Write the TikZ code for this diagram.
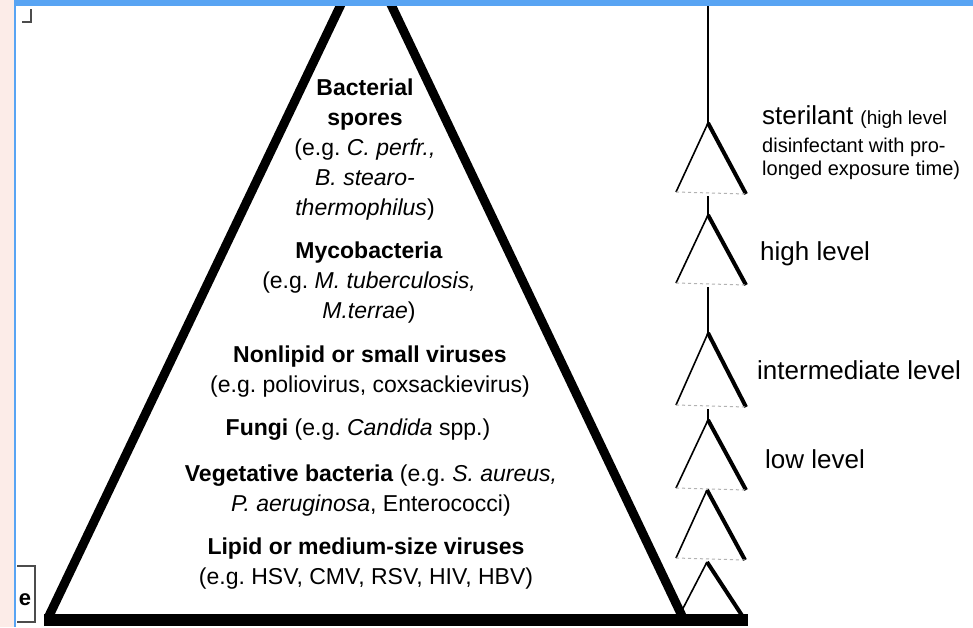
\documentclass[tikz,border=0pt]{standalone}
\usepackage{fontspec}
\setmainfont{Liberation Sans}
\usetikzlibrary{positioning}
\definecolor{bandpink}{RGB}{252,236,232}
\definecolor{bandblue}{RGB}{88,164,243}

\begin{document}
\begin{tikzpicture}[x=1pt, y=-1pt,
    level/.style={inner sep=0pt, align=center, font=\fontsize{23}{30}\selectfont},
    tag/.style={inner sep=0pt, anchor=west, align=left, font=\fontsize{26}{28}\selectfont},
    note/.style={inner sep=0pt, anchor=west, align=left, font=\fontsize{20}{23}\selectfont},
    wall/.style={line width=9pt},
    stem/.style={line width=1.2pt},
    leftleg/.style={line width=1.6pt},
    rightleg/.style={line width=4pt},
    footing/.style={gray!60, dashed, line width=1pt},
]
\useasboundingbox (0,0) rectangle (973,627);
\clip (0,0) rectangle (973,627);
\fill[white] (0,0) rectangle (973,627);

% big pyramid
\coordinate (top) at (366,-48);
\coordinate (baseL) at (48,618);
\coordinate (baseR) at (683,618);
\draw[wall] (top) -- (baseL);
\draw[wall] (top) -- (baseR);
\draw[line width=12pt] (44,620) -- (748,620);

% levels of resistance
\node[level] (spores) at (365,150) {\textbf{Bacterial}\\\textbf{spores}\\(e.g.\ \textit{C. perfr.,}\\\textit{B. stearo-}\\\textit{thermophilus})};
\node[level] (myco) at (369,283) {\textbf{Mycobacteria}\\(e.g.\ \textit{M. tuberculosis,}\\\textit{M.terrae})};
\node[level] (nonlipid) at (370,372) {\textbf{Nonlipid or small viruses}\\(e.g.\ poliovirus, coxsackievirus)};
\node[level] (fungi) at (358,430) {\textbf{Fungi} (e.g.\ \textit{Candida} spp.)};
\node[level] (vegetative) at (371,491) {\textbf{Vegetative bacteria} (e.g.\ \textit{S. aureus,}\\\textit{P. aeruginosa}, Enterococci)};
\node[level] (lipid) at (366,564) {\textbf{Lipid or medium-size viruses}\\(e.g.\ HSV, CMV, RSV, HIV, HBV)};

% stacked triangles
\coordinate (root) at (708,6);
\coordinate (cap1) at (708,123); \coordinate (bl1) at (676,192); \coordinate (br1) at (746,194); \coordinate (foot1) at (708,196);
\coordinate (cap2) at (708,215); \coordinate (bl2) at (676,283); \coordinate (br2) at (746,285); \coordinate (foot2) at (708,287);
\coordinate (cap3) at (708,333); \coordinate (bl3) at (676,405); \coordinate (br3) at (746,407); \coordinate (foot3) at (708,409);
\coordinate (cap4) at (708,420); \coordinate (bl4) at (676,488); \coordinate (br4) at (746,490);
\coordinate (cap5) at (707,490); \coordinate (bl5) at (676,558); \coordinate (br5) at (745,560);
\coordinate (cap6) at (707,562); \coordinate (bl6) at (678,618); \coordinate (br6) at (745,620);

\draw[stem] (root) -- (cap1);
\draw[stem] (foot1) -- (cap2);
\draw[stem] (foot2) -- (cap3);
\draw[stem] (foot3) -- (cap4);

\draw[leftleg] (cap1) -- (bl1); \draw[rightleg] (cap1) -- (br1); \draw[footing] (bl1) -- (br1);
\draw[leftleg] (cap2) -- (bl2); \draw[rightleg] (cap2) -- (br2); \draw[footing] (bl2) -- (br2);
\draw[leftleg] (cap3) -- (bl3); \draw[rightleg] (cap3) -- (br3); \draw[footing] (bl3) -- (br3);
\draw[leftleg] (cap4) -- (bl4); \draw[rightleg] (cap4) -- (br4); \draw[footing] (bl4) -- (br4);
\draw[leftleg] (cap5) -- (bl5); \draw[rightleg] (cap5) -- (br5); \draw[footing] (bl5) -- (br5);
\draw[leftleg] (cap6) -- (bl6); \draw[rightleg] (cap6) -- (br6);

% disinfection levels
\node[tag] (sterilant) at (762,117) {sterilant {\fontsize{19}{23}\selectfont (high level}};
\node[note] (prolonged) at (762,159) {disinfectant with pro-\\longed exposure time)};
\node[tag] (high) at (760,254) {high level};
\node[tag] (intermediate) at (757,370) {intermediate level};
\node[tag] (low) at (765,459) {low level};

% window frame
\fill[bandpink] (0,0) rectangle (14,627);
\draw[bandblue, line width=2pt] (15,0) -- (15,627);
\fill[bandblue] (14,0) rectangle (973,6);
\draw[line width=1.2pt, black!70] (22,22) -- (31,22) -- (31,9);
\draw[line width=1.2pt, black!70] (17,566) -- (35,566) -- (35,622) -- (17,622);
\node[inner sep=0pt, font=\bfseries\fontsize{22}{24}\selectfont] (frag) at (25,600) {e};
\end{tikzpicture}
\end{document}
